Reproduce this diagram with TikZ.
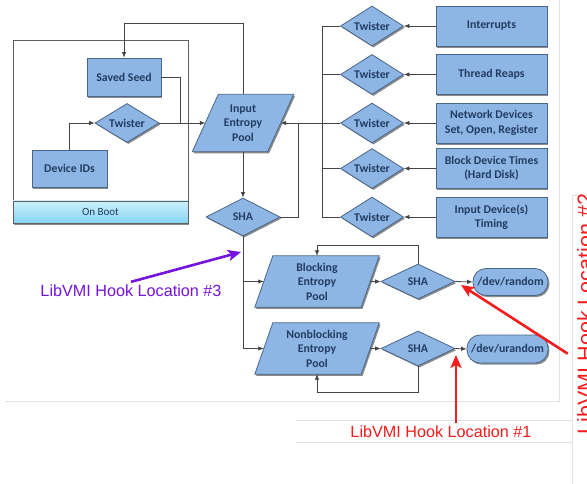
\documentclass[tikz,border=0pt]{standalone}
\usepackage{fontspec}
\setmainfont{Carlito}
\newfontfamily\hookfont{Liberation Sans}
\usetikzlibrary{arrows.meta,shapes.geometric,shadows,calc}
\pgfdeclarelayer{bg}
\pgfdeclarelayer{paper}
\pgfsetlayers{paper,bg,main}

\definecolor{boxfill}{HTML}{8EB6E4}
\definecolor{edge}{HTML}{4A6688}
\definecolor{txt}{HTML}{223C62}
\definecolor{linecol}{HTML}{454545}
\definecolor{framecol}{HTML}{606060}
\definecolor{barlight}{HTML}{CDF1FC}
\definecolor{bardark}{HTML}{86D3F2}
\definecolor{hookred}{HTML}{F51C1E}
\definecolor{hookpurple}{HTML}{7414DC}
\definecolor{pageedge}{HTML}{E2E2E2}

\tikzset{
  softshadow/.style={drop shadow={shadow xshift=1.4pt,shadow yshift=-1.6pt,fill=black,opacity=0.45}},
  label font/.style={font=\fontsize{11.8}{14.5}\selectfont\bfseries, text=txt, align=center},
  box/.style={label font, rectangle, draw=edge, fill=boxfill, line width=0.8pt, softshadow, inner sep=1pt},
  dia/.style={label font, diamond, draw=edge, fill=boxfill, line width=0.8pt, softshadow, inner sep=0pt, aspect=2},
  pooltext/.style={label font, rectangle, inner sep=0pt},
  poolshape/.style={draw=edge, fill=boxfill, line width=0.8pt, softshadow},
  devnode/.style={label font, rectangle, rounded corners=13pt, draw=edge, fill=boxfill, line width=0.8pt, softshadow, inner sep=1pt},
  bootframe/.style={rectangle, draw=framecol, fill=white, line width=0.9pt, softshadow},
  bootbar/.style={rectangle, draw=framecol, line width=0.8pt, top color=barlight, bottom color=bardark,
    font=\fontsize{11}{13}\selectfont, text=txt},
  conn/.style={draw=linecol, line width=0.8pt},
  arr/.style={conn, -{Latex[length=5.5pt,width=4.5pt]}},
  hookarr/.style={line width=2.6pt, -{Stealth[length=13pt,width=11pt,inset=3pt]}},
  hooklabel/.style={font=\hookfont\fontsize{16.2}{18}\selectfont, inner sep=3pt},
  edgeline/.style={draw=pageedge, line width=0.8pt},
}

\begin{document}
\begin{tikzpicture}[x=1pt,y=-1pt]
\useasboundingbox (0,0) rectangle (587,484);
\clip (0,0) rectangle (587,484);
\begin{pgfonlayer}{paper}
\fill[white] (0,0) rectangle (587,484);
% light page edges behind the figure
\draw[edgeline] (5,401) -- (559,401) -- (559,0);
\draw[edgeline] (296,420) -- (572,420);
\draw[edgeline] (296,442) -- (572,442);
\draw[edgeline] (587,195) -- (572,195) -- (572,484);
\end{pgfonlayer}

% boot-time container
\node[bootframe, minimum width=175pt, minimum height=183pt] (boot) at (100.5,131.5) {};
\node[bootbar, minimum width=175pt, minimum height=22pt] (bootbar) at (100.5,212) {On Boot};

\node[box, minimum width=74pt, minimum height=38pt] (seed) at (124,77) {Saved Seed};
\node[dia, minimum width=64pt, minimum height=39pt] (btw) at (127,123) {Twister};
\node[box, minimum width=75pt, minimum height=37pt] (devid) at (69.5,168.5) {Device IDs};

% input pool and its mixer
\node[pooltext, minimum width=75pt, minimum height=57pt] (pool) at (243,123) {Input\\Entropy\\Pool};
\node[dia, minimum width=74pt, minimum height=38pt] (sha) at (243,217) {SHA};

% event sources
\foreach \n/\y in {1/26,2/74.5,3/123,4/168.5,5/217}
  \node[dia, minimum width=63pt, minimum height=40pt] (tw\n) at (372,\y) {Twister};
\node[box, minimum width=111pt, minimum height=40pt] (intr) at (491.5,26) {Interrupts};
\node[box, minimum width=111pt, minimum height=40pt] (reap) at (491.5,74.5) {Thread Reaps};
\node[box, minimum width=111pt, minimum height=40pt] (net) at (491.5,123) {Network Devices\\Set, Open, Register};
\node[box, minimum width=111pt, minimum height=40pt] (blk) at (491.5,168.5) {Block Device Times\\(Hard Disk)};
\node[box, minimum width=111pt, minimum height=40pt] (inp) at (491.5,217) {Input Device(s)\\Timing};

% output pools
\node[pooltext, minimum width=106pt, minimum height=51pt] (bpool) at (317,281.5) {Blocking\\Entropy\\Pool};
\node[pooltext, minimum width=106pt, minimum height=51pt] (npool) at (317,348.5) {Nonblocking\\Entropy\\Pool};
\node[dia, minimum width=74pt, minimum height=35pt] (sha2) at (418,281.5) {SHA};
\node[dia, minimum width=74pt, minimum height=35pt] (sha3) at (418,348.5) {SHA};
\node[devnode, minimum width=75pt, minimum height=27pt] (rand) at (510.5,282) {/dev/random};
\node[devnode, minimum width=81pt, minimum height=28pt] (urand) at (507.5,349) {/dev/urandom};

% parallelogram outlines of the pools
\begin{pgfonlayer}{bg}
\path[poolshape] ([xshift=-13pt]pool.south west) -- ([xshift=13pt]pool.north west)
  -- ([xshift=13pt]pool.north east) -- ([xshift=-13pt]pool.south east) -- cycle;
\path[poolshape] ([xshift=-9pt]bpool.south west) -- ([xshift=9pt]bpool.north west)
  -- ([xshift=9pt]bpool.north east) -- ([xshift=-9pt]bpool.south east) -- cycle;
\path[poolshape] ([xshift=-9pt]npool.south west) -- ([xshift=9pt]npool.north west)
  -- ([xshift=9pt]npool.north east) -- ([xshift=-9pt]npool.south east) -- cycle;
\end{pgfonlayer}

% boot connectors
\coordinate (seedjoin) at (180,123);
\coordinate (looptop) at (124,23);
\draw[arr] (devid.north) |- (btw.west);
\draw[conn] (seed.east) -| (seedjoin);
\draw[arr] (btw.east) -- (pool.west);
\draw[arr] (pool.north) |- (looptop) -- (seed.north);

% input pool connectors
\coordinate (bus) at (322,0);
\coordinate (shabus) at (298,123);
\draw[arr] (pool.south) -- (sha.north);
\draw[conn] (sha.east) -| (shabus);
\draw[arr] (tw3.west) -- (pool.east);
\draw[conn] (tw1.west) -| (tw5.west -| bus) -- (tw5.west);
\draw[conn] (tw2.west) -- (tw2.west -| bus);
\draw[conn] (tw4.west) -- (tw4.west -| bus);
\draw[arr] (intr.west) -- (tw1.east);
\draw[arr] (reap.west) -- (tw2.east);
\draw[arr] (net.west) -- (tw3.east);
\draw[arr] (blk.west) -- (tw4.east);
\draw[arr] (inp.west) -- (tw5.east);

% output pool connectors
\coordinate (bloop) at (0,245);
\coordinate (nloop) at (0,392);
\draw[arr] (sha.south) |- (npool.west);
\draw[arr] (sha.south |- bpool.west) -- (bpool.west);
\draw[arr] (bpool.east) -- (sha2.west);
\draw[arr] (npool.east) -- (sha3.west);
\draw[arr] (sha2.north) |- (bloop -| bpool.north) -- (bpool.north);
\draw[arr] (sha3.south) |- (nloop -| npool.south) -- (npool.south);
\draw[arr] (sha2.east) -- (rand.west);
\draw[arr] (sha3.east) -- (urand.west);

% hook annotations
\node[hooklabel, text=hookpurple] (h3) at (131,291) {LibVMI Hook Location \#3};
\coordinate (h3tip) at (241,252);
\draw[hookarr, hookpurple] (h3.north) -- (h3tip);

\node[hooklabel, text=hookred] (h1) at (441,432) {LibVMI Hook Location \#1};
\coordinate (h1tip) at (456,355);
\draw[hookarr, hookred] (h1.north -| h1tip) -- (h1tip);

\node[hooklabel, font=\hookfont\fontsize{21.5}{24}\selectfont, text=hookred, rotate=90, anchor=base, inner sep=0pt] (h2) at (592.5,314) {LibVMI Hook Location \#2};
\coordinate (h2tip) at (461,285);
\draw[hookarr, hookred] ($(h2.north)!0.33!(h2.north west) + (-9,0)$) -- (h2tip);
\end{tikzpicture}
\end{document}
